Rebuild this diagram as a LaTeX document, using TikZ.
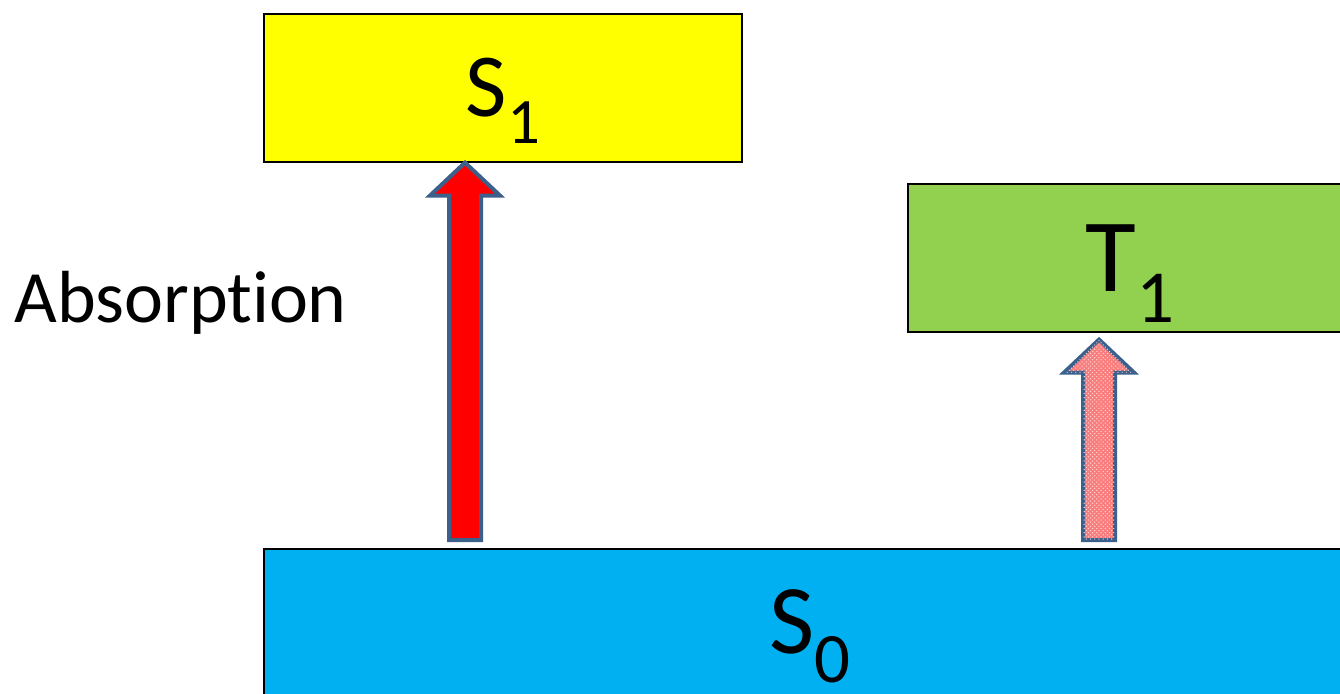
\documentclass[tikz,border=0pt]{standalone}
\usepackage{fontspec}
\setmainfont{Carlito}[Ligatures=NoCommon]
\usetikzlibrary{calc,patterns}
\definecolor{levelYellow}{RGB}{255,255,0}
\definecolor{levelGreen}{RGB}{146,208,80}
\definecolor{levelBlue}{RGB}{0,176,240}
\definecolor{arrowEdge}{RGB}{60,96,140}
\definecolor{arrowRed}{RGB}{255,0,0}
\definecolor{arrowPink}{RGB}{250,125,125}
\newcommand{\lvl}[2]{#1\raisebox{-0.3em}{\scalebox{0.72}{#2}}}
\newcommand{\blockarrow}[3]{%
  \draw[#1] ($(#2)+(-16,0)$) -- ($(#3)+(-16,33)$) -- ($(#3)+(-35,33)$) -- (#3)
    -- ($(#3)+(35,33)$) -- ($(#3)+(16,33)$) -- ($(#2)+(16,0)$) -- cycle;}

\begin{document}
\begin{tikzpicture}[x=0.025cm,y=-0.025cm,
  levelbox/.style={draw=black,line width=1.1pt,anchor=north west,inner sep=0pt,
    minimum width=#1,minimum height=3.7cm,text depth=0pt},
  excite/.style={draw=arrowEdge,line width=2.85pt}]
\useasboundingbox (0,0) rectangle (1340,693);
\node[levelbox=11.95cm,fill=levelYellow,text height=41.2pt,font=\fontsize{64}{64}\selectfont] (s1) at (263,13) {\lvl{S}{1}};
\node[levelbox=11.1cm,fill=levelGreen,text height=47.7pt,font=\fontsize{74}{74}\selectfont] (t1) at (907,183) {\lvl{T}{1}};
\node[levelbox=27.3cm,minimum height=3.65cm,fill=levelBlue,text height=45pt,font=\fontsize{70}{70}\selectfont] (s0) at (263,548) {\lvl{S}{0}};
\node[anchor=base west,inner sep=0pt,font=\fontsize{52.5}{52.5}\selectfont] (absorb) at (14,322) {Absorption};

\coordinate (redtip) at ($(s1.south west)+(202,0)$);
\coordinate (redfoot) at ($(s0.north west)+(202,-8)$);
\coordinate (pinktip) at ($(t1.south west)+(192,7)$);
\coordinate (pinkfoot) at ($(s0.north west)+(836,-8)$);
\blockarrow{excite,fill=arrowRed}{redfoot}{redtip}
\blockarrow{excite,fill=arrowPink,postaction={pattern=crosshatch dots,pattern color=white!70!arrowPink}}{pinkfoot}{pinktip}
\end{tikzpicture}
\end{document}
